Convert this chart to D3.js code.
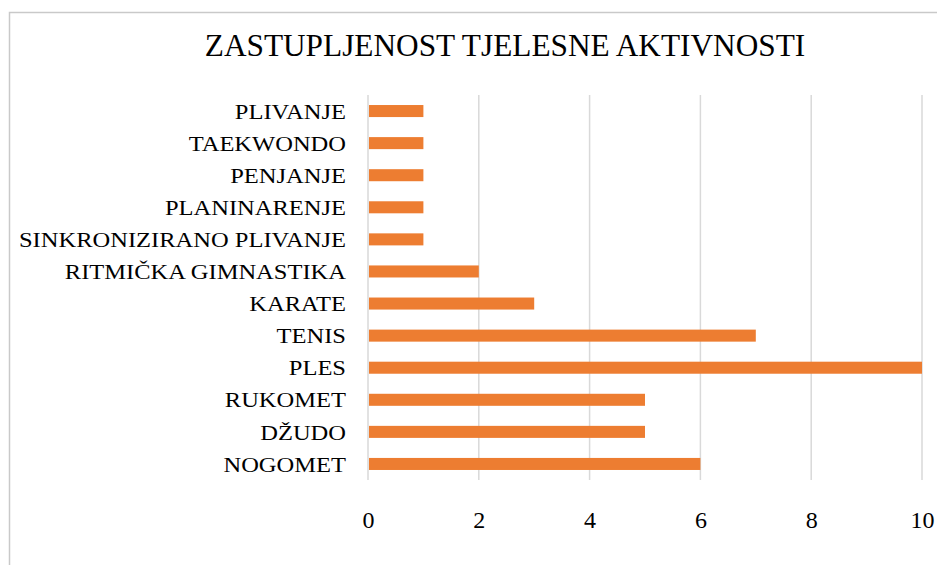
<!DOCTYPE html>
<html>
<head>
<meta charset="utf-8">
<script src="https://cdn.jsdelivr.net/npm/d3@7"></script>
<style>
  html, body { margin: 0; padding: 0; background: #fff; }
  svg { display: block; }
</style>
</head>
<body>
<svg id="chart" width="937" height="565"></svg>
<script>
const categories = ["PLIVANJE", "TAEKWONDO", "PENJANJE", "PLANINARENJE", "SINKRONIZIRANO PLIVANJE",
  "RITMIČKA GIMNASTIKA", "KARATE", "TENIS", "PLES", "RUKOMET", "DŽUDO", "NOGOMET"];
const values = [1, 1, 1, 1, 1, 2, 3, 7, 10, 5, 5, 6];
const tickValues = [0, 2, 4, 6, 8, 10];
const title = "ZASTUPLJENOST TJELESNE AKTIVNOSTI";

const FONT = "'Liberation Serif', 'Times New Roman', serif";
const svg = d3.select("#chart");

svg.append("rect")
  .attr("x", 9.5).attr("y", 12.5)
  .attr("width", 1200).attr("height", 1200)
  .attr("fill", "none").attr("stroke", "#c9c9c9").attr("stroke-width", 1.5);

const x = d3.scaleLinear().domain([0, 10]).range([368, 922]);
const y = d3.scaleBand().domain(categories).range([95, 480]).paddingInner(0.625).paddingOuter(0.3125);

svg.append("g").selectAll("line").data(tickValues).join("line")
  .attr("x1", d => x(d)).attr("x2", d => x(d))
  .attr("y1", 95).attr("y2", 480)
  .attr("stroke", "#d9d9d9").attr("stroke-width", 1.5);

svg.append("g").selectAll("rect").data(categories).join("rect")
  .attr("x", x(0) + 1)
  .attr("y", d => y(d))
  .attr("width", (d, i) => x(values[i]) - x(0) - 1)
  .attr("height", y.bandwidth())
  .attr("fill", "#ED7D31");

const yAxis = d3.axisLeft(y).tickSize(0).tickPadding(0);
const yg = svg.append("g").attr("transform", "translate(346,0)").call(yAxis);
yg.select(".domain").remove();
yg.selectAll("text").style("font-family", FONT).style("font-size", "22px")
  .attr("fill", "#000").attr("dy", "0.35em").attr("transform", "scale(1.115,1)");

const xAxis = d3.axisBottom(x).tickValues(tickValues).tickSize(0).tickPadding(0).tickFormat(d3.format("d"));
const xg = svg.append("g").attr("transform", "translate(0,528)").call(xAxis);
xg.select(".domain").remove();
xg.selectAll("text").style("font-family", FONT).style("font-size", "24px").attr("fill", "#000").attr("dy", 0);

svg.append("text")
  .attr("x", 505).attr("y", 56)
  .attr("text-anchor", "middle")
  .style("font-family", FONT).style("font-size", "31.3px")
  .text(title);
</script>
</body>
</html>
